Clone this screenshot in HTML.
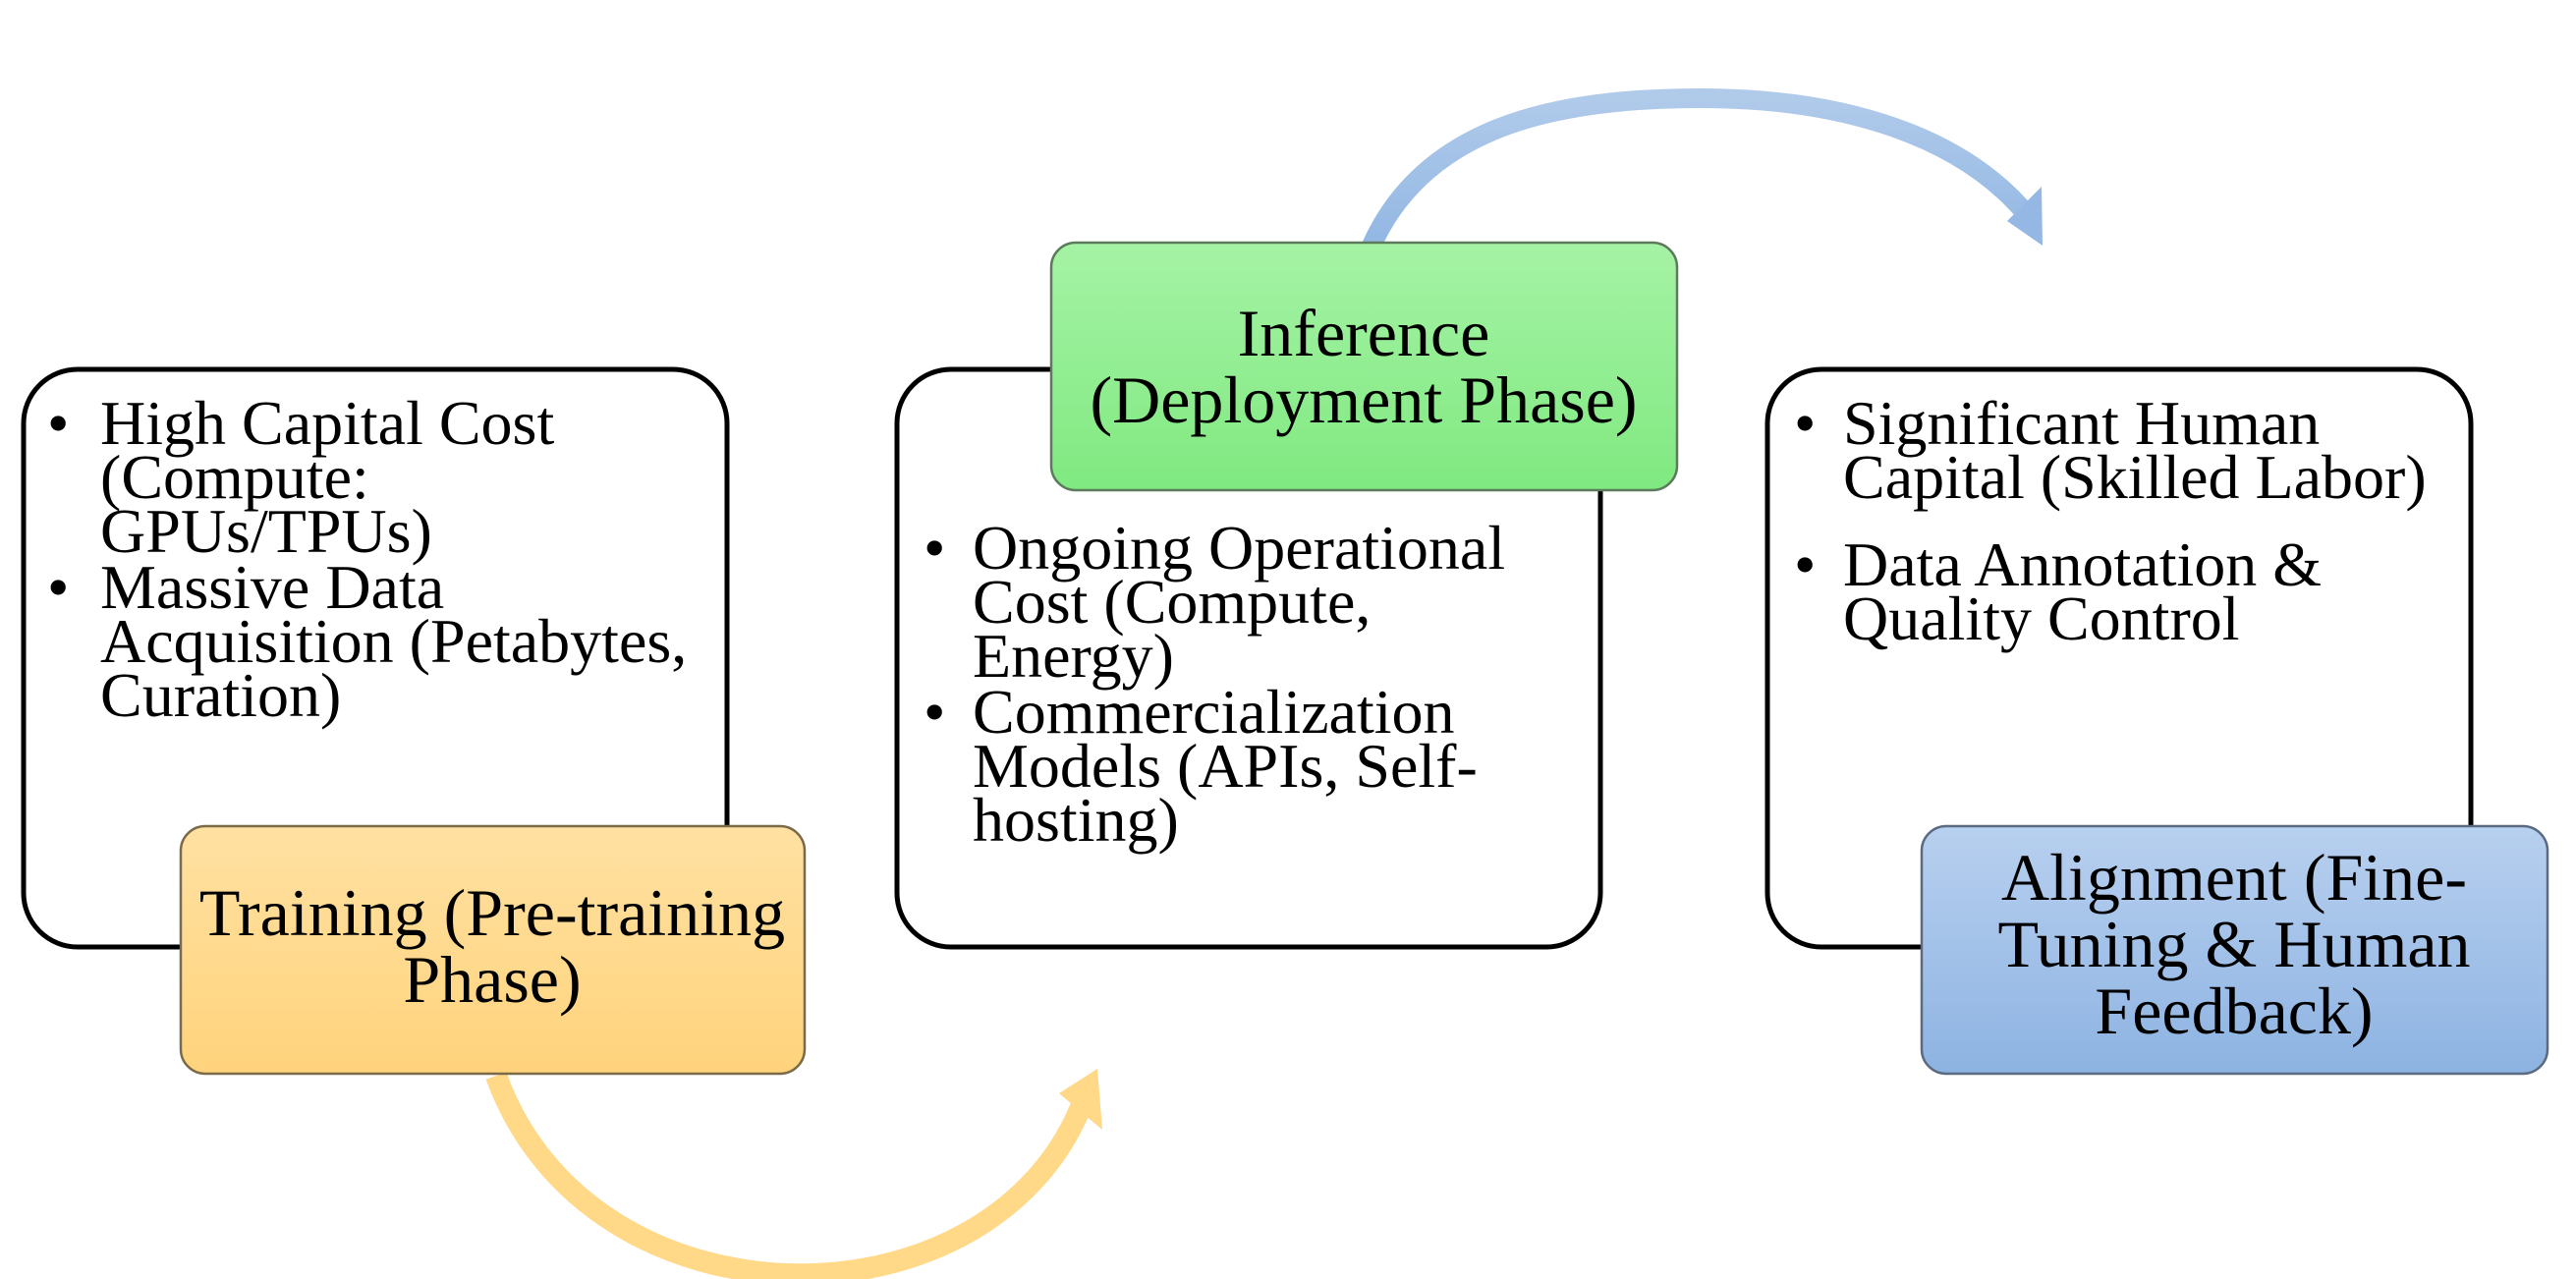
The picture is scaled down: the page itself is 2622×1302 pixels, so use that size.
<!DOCTYPE html>
<html><head><meta charset="utf-8"><style>
html,body{margin:0;padding:0;background:#fff;}
svg{display:block;}
text{font-family:"Liberation Serif","Times New Roman",serif;fill:#000;}
</style></head><body>
<svg width="2622" height="1302" viewBox="0 0 2622 1302" xmlns="http://www.w3.org/2000/svg">
<defs>
<linearGradient id="go" x1="0" y1="0" x2="0" y2="1"><stop offset="0" stop-color="#FFE1A2"/><stop offset="1" stop-color="#FFD37C"/></linearGradient>
<linearGradient id="gg" x1="0" y1="0" x2="0" y2="1"><stop offset="0" stop-color="#A5F3A5"/><stop offset="1" stop-color="#80E980"/></linearGradient>
<linearGradient id="gb" x1="0" y1="0" x2="0" y2="1"><stop offset="0" stop-color="#B8D0EF"/><stop offset="1" stop-color="#8DB3E2"/></linearGradient>
<linearGradient id="ab" x1="0" y1="0" x2="0" y2="1"><stop offset="0" stop-color="#B0CAEA"/><stop offset="1" stop-color="#92B7E3"/></linearGradient>
</defs>

<path d="M505,1095 C600,1360 1010,1360 1102,1122" fill="none" stroke="#FFD888" stroke-width="22"/>
<polygon points="1117,1088 1078,1113 1122,1150" fill="#FFD888"/>
<path d="M1396,250 C1450,130 1580,100 1730,100 C1880,100 2000,140 2066,222" fill="none" stroke="url(#ab)" stroke-width="20"/>
<polygon points="2079,250 2043,225 2078,190" fill="#94B8E3"/>

<rect x="24" y="376" width="716" height="588" rx="55" fill="#fff" stroke="#000" stroke-width="5"/>
<rect x="913" y="376" width="716" height="588" rx="55" fill="#fff" stroke="#000" stroke-width="5"/>
<rect x="1799" y="376" width="716" height="588" rx="55" fill="#fff" stroke="#000" stroke-width="5"/>

<g font-size="64">
<text x="48" y="452">•</text>
<text x="102" y="452">High Capital Cost</text>
<text x="102" y="507">(Compute:</text>
<text x="102" y="562">GPUs/TPUs)</text>
<text x="48" y="619">•</text>
<text x="102" y="619">Massive Data</text>
<text x="102" y="674">Acquisition (Petabytes,</text>
<text x="102" y="729">Curation)</text>

<text x="940" y="579">•</text>
<text x="990" y="579">Ongoing Operational</text>
<text x="990" y="634">Cost (Compute,</text>
<text x="990" y="689">Energy)</text>
<text x="940" y="746">•</text>
<text x="990" y="746">Commercialization</text>
<text x="990" y="801">Models (APIs, Self-</text>
<text x="990" y="856">hosting)</text>

<text x="1826" y="452">•</text>
<text x="1876" y="452">Significant Human</text>
<text x="1876" y="507">Capital (Skilled Labor)</text>
<text x="1826" y="596">•</text>
<text x="1876" y="596">Data Annotation &amp;</text>
<text x="1876" y="651">Quality Control</text>
</g>

<rect x="184" y="841" width="635" height="252" rx="25" fill="url(#go)" stroke="#7a6a48" stroke-width="2.5"/>
<rect x="1070" y="247" width="637" height="252" rx="25" fill="url(#gg)" stroke="#5c7a5c" stroke-width="2.5"/>
<rect x="1956" y="841" width="637" height="252" rx="25" fill="url(#gb)" stroke="#5a6a80" stroke-width="2.5"/>

<g font-size="68" text-anchor="middle">
<text x="501" y="952">Training (Pre-training</text>
<text x="501" y="1020">Phase)</text>
<text x="1388" y="362">Inference</text>
<text x="1388" y="430">(Deployment Phase)</text>
<text x="2274" y="916">Alignment (Fine-</text>
<text x="2274" y="984">Tuning &amp; Human</text>
<text x="2274" y="1052">Feedback)</text>
</g>
</svg>
</body></html>
